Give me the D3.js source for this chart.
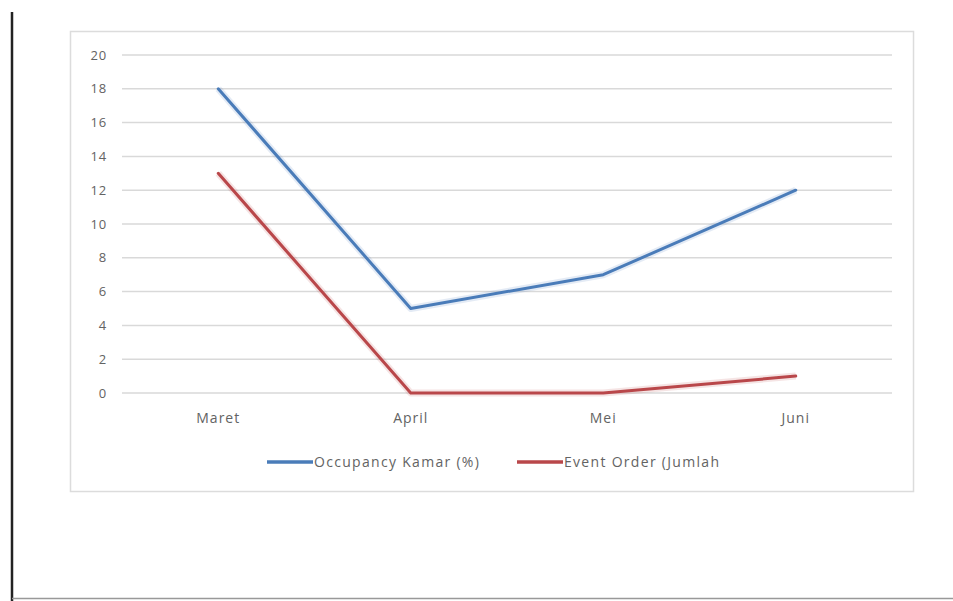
<!DOCTYPE html>
<html>
<head>
<meta charset="utf-8">
<script src="https://cdn.jsdelivr.net/npm/d3@7"></script>
<style>
  html, body { margin: 0; padding: 0; background: #fff; }
  svg { display: block; }
  text { font-family: "Open Sans", "Liberation Sans", sans-serif; fill: #636363; }
</style>
</head>
<body>
<svg id="chart" width="953" height="601"></svg>
<script>
const categories = ["Maret", "April", "Mei", "Juni"];
const occupancy = [18, 5, 7, 12];
const eventOrder = [13, 0, 0, 1];
const yTicks = [0, 2, 4, 6, 8, 10, 12, 14, 16, 18, 20];
const seriesNames = ["Occupancy Kamar (%)", "Event Order (Jumlah"];
const seriesColors = ["#4a7cb9", "#b9474a"];

const svg = d3.select("#chart");

// page frame lines
svg.append("line").attr("x1", 12).attr("x2", 12).attr("y1", 12).attr("y2", 601)
  .attr("stroke", "#222").attr("stroke-width", 2.5);
svg.append("line").attr("x1", 12).attr("x2", 953).attr("y1", 598.5).attr("y2", 598.5)
  .attr("stroke", "#999").attr("stroke-width", 1.5);

// chart area border
svg.append("rect").attr("x", 70.5).attr("y", 31.5).attr("width", 843).attr("height", 460)
  .attr("fill", "#fff").attr("stroke", "#dcdcdc").attr("stroke-width", 1.5);

const plotLeft = 122, plotRight = 892, plotTop = 55, plotBottom = 393;

const x = d3.scaleBand().domain(categories).range([plotLeft, plotRight]);
const y = d3.scaleLinear().domain([0, 20]).range([plotBottom, plotTop]);

// gridlines
svg.append("g").selectAll("line").data(yTicks).join("line")
  .attr("x1", plotLeft).attr("x2", plotRight)
  .attr("y1", d => y(d)).attr("y2", d => y(d))
  .attr("stroke", "#d9d9d9").attr("stroke-width", 1.5);

// y axis labels
const yAxis = d3.axisLeft(y).tickValues(yTicks).tickSize(0).tickPadding(0);
const gy = svg.append("g").attr("transform", `translate(107,0)`).call(yAxis);
gy.select(".domain").remove();
gy.selectAll("text").attr("font-size", 13).style("fill", "#636363")
  .style("letter-spacing", "0.8px")
  .style("font-family", "'Open Sans', 'Liberation Sans', sans-serif");

// x axis labels
const xAxis = d3.axisBottom(x).tickSize(0).tickPadding(0);
const gx = svg.append("g").attr("transform", `translate(0,413)`).call(xAxis);
gx.select(".domain").remove();
gx.selectAll("text").attr("font-size", 14).style("fill", "#636363")
  .style("letter-spacing", "1px")
  .style("font-family", "'Open Sans', 'Liberation Sans', sans-serif");

// lines
const line = d3.line().x((d, i) => x(categories[i]) + x.bandwidth() / 2).y(d => y(d));
[occupancy, eventOrder].forEach((vals, k) => {
  svg.append("path").datum(vals).attr("d", line)
    .attr("fill", "none").attr("stroke", seriesColors[k]).attr("stroke-opacity", 0.15)
    .attr("stroke-width", 7).attr("stroke-linejoin", "round");
  svg.append("path").datum(vals).attr("d", line)
    .attr("fill", "none").attr("stroke", seriesColors[k])
    .attr("stroke-width", 3).attr("stroke-linejoin", "round").attr("stroke-linecap", "round");
});

// legend
const legendItems = [
  { x0: 267, x1: 313, tx: 314 },
  { x0: 517, x1: 563, tx: 564 }
];
const lg = svg.append("g");
legendItems.forEach((it, k) => {
  lg.append("line").attr("x1", it.x0).attr("x2", it.x1).attr("y1", 462).attr("y2", 462)
    .attr("stroke", seriesColors[k]).attr("stroke-width", 3.5);
  lg.append("text").attr("x", it.tx).attr("y", 467).attr("font-size", 14)
    .style("letter-spacing", "1.3px")
    .text(seriesNames[k]);
});
</script>
</body>
</html>
